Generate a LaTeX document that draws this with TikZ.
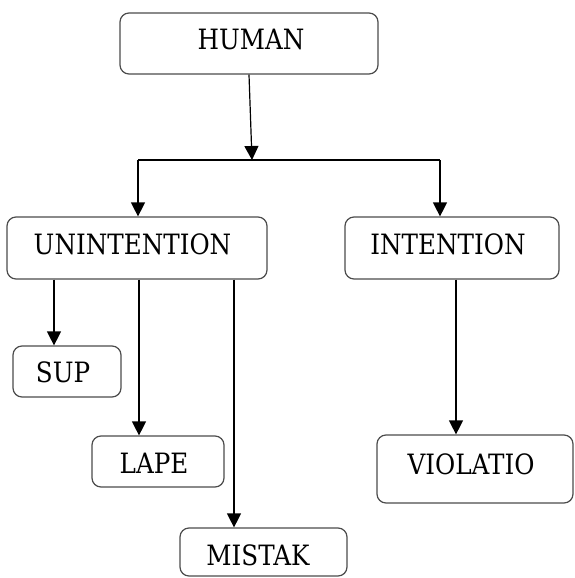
\documentclass[tikz,border=0pt]{standalone}
\usepackage{fontspec}
\setmainfont[FakeStretch=0.88]{DejaVu Serif}
\usetikzlibrary{arrows.meta}
\begin{document}
\begin{tikzpicture}[x=1pt,y=-1pt,
  box/.style={draw=black!70,line width=1.2pt,rounded corners=9pt,inner sep=0pt},
  lbl/.style={anchor=base,inner sep=0pt,font=\fontsize{28}{30}\selectfont},
  link/.style={draw=black,line width=1.2pt},
  arr/.style={link,-{Triangle[width=14pt,length=14pt]}}]
\useasboundingbox (0,0) rectangle (574,578);
\fill[white] (0,0) rectangle (574,578);

% boxes
\node[box,minimum width=258pt,minimum height=61pt] (human) at (249,43.5) {};
\node[box,minimum width=260pt,minimum height=62pt] (unint) at (137,248) {};
\node[box,minimum width=214pt,minimum height=62pt] (inten) at (452,248) {};
\node[box,minimum width=108pt,minimum height=51pt] (sup)   at (67,371.5) {};
\node[box,minimum width=132pt,minimum height=51pt] (lape)  at (158,461.5) {};
\node[box,minimum width=167pt,minimum height=48pt] (mist)  at (263.5,552) {};
\node[box,minimum width=196pt,minimum height=68pt] (viol)  at (475,469) {};

% labels
\node[lbl] (thuman) at (251,49)    {HUMAN};
\node[lbl] (tunint) at (132.5,254) {UNINTENTION};
\node[lbl] (tinten) at (448,254)   {INTENTION};
\node[lbl] (tsup)   at (63,382)    {SUP};
\node[lbl] (tlape)  at (154,473)   {LAPE};
\node[lbl] (tmist)  at (258,565)   {MISTAK};
\node[lbl] (tviol)  at (471,474)   {VIOLATIO};

% branch points
\coordinate (split) at (252,160);
\coordinate (splitl) at (138,160);
\coordinate (splitr) at (440,160);

% connectors
\draw[arr] (human.south) -- (split);
\draw[link] (splitl) -- (splitr);
\draw[arr] (splitl) -- (splitl |- unint.north);
\draw[arr] (splitr) -- (splitr |- inten.north);
\draw[arr] (unint.south -| 54,0) -- (sup.north -| 54,0);
\draw[arr] (unint.south -| 139,0) -- (lape.north -| 139,0);
\draw[arr] (unint.south -| 234,0) -- (mist.north -| 234,0);
\draw[arr] (inten.south -| 456,0) -- (viol.north -| 456,0);
\end{tikzpicture}
\end{document}
